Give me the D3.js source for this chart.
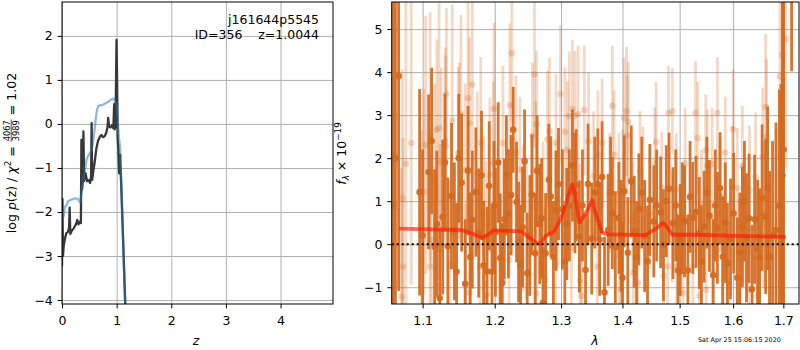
<!DOCTYPE html>
<html><head><meta charset="utf-8">
<script src="https://cdn.jsdelivr.net/npm/d3@7"></script>
<style>body{margin:0;background:#fff} svg text{font-family:"DejaVu Sans",sans-serif}</style>
</head><body><svg id="c" width="800" height="350"></svg>
<script>
// ---------------- data ----------------
const zTicks = [0, 1, 2, 3, 4];
const pTicks = [-4, -3, -2, -1, 0, 1, 2];
const lamTicks = [1.1, 1.2, 1.3, 1.4, 1.5, 1.6, 1.7];
const fTicks = [-1, 0, 1, 2, 3, 4, 5];
const titleLines = ["j161644p5545", "ID=356    z=1.0044"];
const stamp = "Sat Apr 25 15:06:15 2020";

// log p(z) curves [z, value]
const pzBlack = [[0,-3.23],[0.008,-1.70],[0.018,-3.0],[0.03,-2.78],[0.055,-2.6],[0.08,-2.48],[0.11,-2.45],[0.13,-2.35],[0.14,-1.9],[0.152,-2.5],[0.18,-2.42],[0.21,-2.38],[0.232,-2.33],[0.255,-2.28],[0.28,-2.18],[0.30,-2.28],[0.33,-2.22],[0.346,-2.25],[0.355,-0.36],[0.365,-1.5],[0.378,-1.35],[0.392,-0.17],[0.405,-1.3],[0.43,-1.12],[0.46,-1.3],[0.49,-1.28],[0.515,-1.34],[0.532,-1.2],[0.542,0.02],[0.552,-1.27],[0.57,-1.1],[0.6,-0.85],[0.63,-0.55],[0.66,-0.38],[0.69,-0.3],[0.72,-0.25],[0.75,-0.3],[0.78,-0.28],[0.81,-0.2],[0.835,-0.06],[0.845,0.14],[0.86,-0.05],[0.885,-0.08],[0.915,-0.03],[0.94,-0.1],[0.955,0.45],[0.965,-0.12],[0.98,-0.05],[0.992,1.3],[0.998,1.91],[1.008,1.0],[1.018,-0.3],[1.03,-0.55],[1.045,-1.12],[1.063,-0.7],[1.09,-1.6],[1.12,-2.7],[1.155,-4.0],[1.17,-4.5]];
const pzBlue = [[0,-2.4],[0.01,-2.0],[0.03,-2.1],[0.055,-1.88],[0.08,-1.85],[0.116,-1.75],[0.17,-1.72],[0.24,-1.69],[0.29,-1.7],[0.33,-1.78],[0.36,-1.55],[0.385,-1.3],[0.41,-1.15],[0.45,-0.8],[0.49,-0.7],[0.54,-0.6],[0.57,-0.4],[0.6,-0.1],[0.63,0.25],[0.66,0.4],[0.7,0.43],[0.73,0.42],[0.76,0.44],[0.8,0.47],[0.85,0.5],[0.89,0.55],[0.94,0.58],[0.97,0.52],[1.0,0.42],[1.02,0.1],[1.04,-0.3],[1.063,-0.52],[1.09,-1.55],[1.12,-2.7],[1.155,-4.0],[1.17,-4.5]];

// spectrum points [lambda, flux, err]
const specDark = [[1.0615,0.9,6],[1.0645,2.0,6],[1.0686,3.91,5],[1.096,1.21,2.4],[1.100,0.2,2.0],[1.108,1.68,1.8],[1.112,2.4,1.7],[1.116,-0.06,1.8],[1.119,0.47,1.7],[1.123,-1.25,1.6],[1.127,0.63,1.8],[1.130,1.9,1.6],[1.134,-0.05,1.6],[1.139,1.12,1.7],[1.143,0.3,1.6],[1.146,-0.64,1.6],[1.149,2.0,1.5],[1.153,1.43,1.6],[1.158,-0.92,1.5],[1.162,1.71,1.5],[1.165,-0.3,1.5],[1.168,0.57,1.6],[1.173,1.21,1.5],[1.177,0.26,1.5],[1.181,1.6,1.5],[1.184,-0.49,1.5],[1.189,-0.63,1.5],[1.192,1.36,1.5],[1.196,-0.64,1.5],[1.199,0.9,1.5],[1.201,0.28,1.5],[1.205,1.9,1.4],[1.208,-0.32,1.5],[1.211,-0.9,1.4],[1.214,0.58,1.4],[1.217,1.6,1.4],[1.22,0.71,1.5],[1.224,1.14,1.4],[1.227,2.66,1.0],[1.232,0.98,1.4],[1.235,0.05,1.4],[1.238,-0.49,1.4],[1.241,0.4,1.4],[1.244,1.93,1.2],[1.248,-0.67,1.4],[1.252,0.2,1.4],[1.255,1.15,1.4],[1.26,-0.21,1.4],[1.263,1.7,1.3],[1.267,0.47,1.4],[1.270,0.6,1.4],[1.272,-1.36,1.3],[1.276,-0.21,1.4],[1.281,1.5,1.3],[1.284,1.11,1.4],[1.288,-0.3,1.3],[1.292,0.78,1.4],[1.296,1.4,1.3],[1.302,0.81,1.4],[1.306,-0.4,1.3],[1.309,0.47,1.3],[1.313,0.9,1.3],[1.318,1.83,1.3],[1.322,1.19,1.4],[1.324,1.37,1.3],[1.329,0.18,1.3],[1.334,0.9,1.3],[1.339,-0.6,1.3],[1.343,1.4,1.4],[1.349,0.13,1.3],[1.354,1.2,1.3],[1.359,1.39,1.3],[1.362,0.1,1.3],[1.366,1.56,1.3],[1.37,-1.12,1.3],[1.376,0.33,1.3],[1.380,1.2,1.3],[1.383,0.72,1.3],[1.388,-0.07,1.3],[1.394,0.61,1.3],[1.398,0.2,1.3],[1.4,-0.78,1.3],[1.403,1.23,1.3],[1.409,-0.2,1.3],[1.415,1.46,1.3],[1.42,0.29,1.3],[1.424,-0.3,1.3],[1.428,0.81,1.3],[1.433,1.2,1.3],[1.438,0.19,1.3],[1.443,-0.4,1.3],[1.447,1.03,1.3],[1.454,0.53,1.3],[1.459,0.9,1.3],[1.466,0.74,1.3],[1.471,-0.02,1.3],[1.476,1.0,1.3],[1.481,1.29,1.3],[1.488,0.49,1.3],[1.493,0.9,1.3],[1.497,-0.61,1.3],[1.501,0.1,1.3],[1.505,0.6,1.3],[1.509,0.53,1.3],[1.515,-0.61,1.3],[1.519,1.1,1.3],[1.524,0.61,1.3],[1.53,0.75,1.3],[1.536,0.26,1.3],[1.540,-0.4,1.3],[1.545,0.41,1.3],[1.550,1.2,1.3],[1.555,0.66,1.3],[1.562,-0.72,1.3],[1.566,0.9,1.3],[1.57,0.38,1.3],[1.575,1.3,1.3],[1.58,-0.29,1.4],[1.585,0.5,1.4],[1.589,-0.44,1.4],[1.595,0.12,1.4],[1.601,0.72,1.4],[1.608,-0.78,1.4],[1.613,-0.2,1.4],[1.618,0.4,1.4],[1.622,1.0,1.4],[1.626,0.15,1.5],[1.631,0.6,1.5],[1.637,-1.05,1.5],[1.642,0.58,1.5],[1.648,-0.1,1.6],[1.652,-0.3,1.6],[1.657,1.08,1.7],[1.664,0.64,1.8],[1.668,1.3,1.9],[1.672,-0.3,2.0],[1.678,0.2,2.2],[1.685,0.33,2.5],[1.692,0.89,2.7],[1.695,0.32,3.4],[1.698,1.6,5],[1.7005,2.2,5],[1.717,7.0,2.98]];
const specLight = [[1.0616,0.41,4],[1.0722,-1.22,3],[1.0735,1.07,3],[1.0743,-0.52,3],[1.078,1.87,3.8],[1.085,2.35,3.3],[1.0983,0.26,2.4],[1.1018,1.22,2.4],[1.104,2.31,3.0],[1.1097,-0.52,2.2],[1.110,2.49,2.9],[1.1118,0.1,2.0],[1.1161,1.53,2.2],[1.119,2.66,2.1],[1.122,2.70,2.9],[1.1232,0.33,2.0],[1.1250,1.9,2.2],[1.1304,2.39,2.0],[1.131,2.27,2.3],[1.132,3.49,2.0],[1.1368,-0.5,2.0],[1.140,2.87,2.7],[1.1483,2.12,2.0],[1.150,2.12,2.1],[1.152,3.03,2.3],[1.158,1.73,2.0],[1.1590,-0.95,1.9],[1.162,3.40,2.4],[1.164,2.81,2.0],[1.1645,-1.13,1.8],[1.168,3.71,2.0],[1.1750,1.65,1.9],[1.1787,-0.52,1.8],[1.1799,2.35,2.0],[1.184,0.72,1.8],[1.187,0.14,1.8],[1.1883,-1.18,1.7],[1.1929,1.61,1.8],[1.198,1.88,1.9],[1.199,3.15,2.0],[1.2074,0.26,1.7],[1.212,2.35,1.8],[1.2210,-0.37,1.7],[1.222,3.23,1.9],[1.225,4.44,1.6],[1.231,2.12,1.8],[1.237,1.73,1.7],[1.242,0.6,1.7],[1.2469,0.33,1.6],[1.256,2.52,1.7],[1.259,3.95,1.7],[1.2620,-1.14,1.6],[1.262,2.79,1.7],[1.261,1.73,1.6],[1.272,0.78,1.6],[1.2747,-0.83,1.6],[1.279,2.43,1.6],[1.282,2.63,1.7],[1.2917,-0.5,1.5],[1.292,2.35,1.6],[1.2952,1.03,1.5],[1.299,3.49,1.6],[1.306,2.61,1.5],[1.31,2.19,1.6],[1.313,2.98,1.5],[1.3163,-0.09,1.5],[1.318,3.15,1.6],[1.322,2.99,1.5],[1.327,3.02,1.6],[1.3295,0.37,1.5],[1.3305,-0.85,1.5],[1.3327,-1.2,1.5],[1.337,3.12,1.5],[1.344,2.39,1.6],[1.352,1.59,1.5],[1.3582,-0.52,1.5],[1.359,2.08,1.5],[1.366,2.35,1.5],[1.3785,1.19,1.4],[1.383,3.22,1.4],[1.386,2.08,1.5],[1.394,1.19,1.4],[1.3951,-0.27,1.4],[1.3979,-1.06,1.4],[1.4007,1.26,1.4],[1.403,2.93,1.4],[1.407,3.09,1.5],[1.408,2.52,1.4],[1.41,2.84,1.4],[1.4177,0.64,1.3],[1.4185,-0.67,1.3],[1.4262,-0.9,1.3],[1.43,1.69,1.4],[1.435,1.43,1.3],[1.4466,0.72,1.3],[1.456,1.88,1.3],[1.458,2.37,1.4],[1.468,1.31,1.3],[1.4712,-0.74,1.3],[1.4788,-0.52,1.3],[1.48,3.05,1.1],[1.4867,0.41,1.3],[1.487,3.09,1.0],[1.494,1.28,1.3],[1.4949,-0.52,1.3],[1.5058,-1.14,1.3],[1.51,1.88,1.3],[1.5241,-0.52,1.3],[1.529,3.05,1.2],[1.533,2.47,1.3],[1.5364,-1.2,1.3],[1.54,0.9,1.3],[1.548,2.18,1.3],[1.5488,-1.06,1.3],[1.551,1.83,1.3],[1.56,1.87,1.3],[1.5611,-0.67,1.3],[1.57,3.05,1.3],[1.575,1.1,1.3],[1.58,-0.1,1.3],[1.585,2.13,1.3],[1.5916,-0.9,1.4],[1.599,1.34,1.4],[1.6,2.67,1.4],[1.608,1.3,1.4],[1.6122,-0.35,1.4],[1.618,1.81,1.4],[1.62,0.5,1.4],[1.6303,-1.06,1.5],[1.632,1.26,1.5],[1.644,1.56,1.5],[1.6481,-1.2,1.6],[1.658,2.04,1.6],[1.66,0.7,1.7],[1.664,3.19,1.7],[1.666,2.5,1.8],[1.6714,-0.25,1.9],[1.685,0.2,2.5],[1.693,3.9,3],[1.698,4.4,4],[1.705,4.77,3]];

// best-fit model [lambda, flux]
const modelLine = [[1.069,0.36],[1.101,0.35],[1.152,0.33],[1.166,0.26],[1.182,0.15],[1.189,0.21],[1.198,0.32],[1.24,0.30],[1.25,0.16],[1.261,0.04],[1.268,0.01],[1.276,0.19],[1.289,0.29],[1.3,0.6],[1.311,1.12],[1.318,1.39],[1.322,1.17],[1.329,0.5],[1.339,0.72],[1.35,1.02],[1.355,0.72],[1.366,0.27],[1.377,0.23],[1.439,0.21],[1.456,0.35],[1.47,0.49],[1.475,0.44],[1.487,0.22],[1.53,0.22],[1.625,0.19],[1.705,0.17]];

// ---------------- drawing ----------------
const svg = d3.select("#c");
const FS = 12.5;
const L = {x0:62, x1:333, y0:2, y1:304};
const R = {x0:391.7, x1:799, y0:2, y1:304};
const xL = d3.scaleLinear().domain([0, 4.96]).range([L.x0, L.x1]);
const yL = d3.scaleLinear().domain([-4.09, 2.77]).range([L.y1, L.y0]);
const xR = d3.scaleLog().domain([1.0597, 1.7324]).range([R.x0, R.x1]);
const yR = d3.scaleLinear().domain([-1.39, 5.63]).range([R.y1, R.y0]);

const defs = svg.append("defs");
[["clipL", L], ["clipR", R]].forEach(([id, b]) => {
  defs.append("clipPath").attr("id", id).append("rect")
    .attr("x", b.x0).attr("y", b.y0).attr("width", b.x1 - b.x0).attr("height", b.y1 - b.y0);
});

function grid(b, xs, ys, xt, yt) {
  const g = svg.append("g");
  g.append("g").attr("transform", `translate(0,${b.y1})`)
    .call(d3.axisBottom(xs).tickValues(xt).tickSize(-(b.y1 - b.y0)).tickFormat(""))
    .call(s => { s.select(".domain").remove(); s.selectAll("line").attr("stroke", "#b0b0b0").attr("stroke-width", 1); });
  g.append("g").attr("transform", `translate(${b.x0},0)`)
    .call(d3.axisLeft(ys).tickValues(yt).tickSize(-(b.x1 - b.x0)).tickFormat(""))
    .call(s => { s.select(".domain").remove(); s.selectAll("line").attr("stroke", "#b0b0b0").attr("stroke-width", 1); });
}
function frame(b, xs, ys, xt, yt, xf, yf) {
  const g = svg.append("g");
  g.append("rect").attr("x", b.x0).attr("y", b.y0).attr("width", b.x1 - b.x0).attr("height", b.y1 - b.y0)
    .attr("fill", "none").attr("stroke", "#000").attr("stroke-width", 1);
  const ax = g.append("g").attr("transform", `translate(0,${b.y1})`)
    .call(d3.axisBottom(xs).tickValues(xt).tickSize(4.4).tickSizeOuter(0).tickPadding(8.2).tickFormat(xf));
  const ay = g.append("g").attr("transform", `translate(${b.x0},0)`)
    .call(d3.axisLeft(ys).tickValues(yt).tickSize(4.4).tickSizeOuter(0).tickPadding(4.8).tickFormat(yf));
  [ax, ay].forEach(a => {
    a.select(".domain").remove();
    a.attr("font-family", null).attr("font-size", null);
    a.selectAll("line").attr("stroke", "#000").attr("stroke-width", 1);
    a.selectAll("text").attr("font-size", FS).attr("fill", "#000");
  });
}

// ---- left panel ----
grid(L, xL, yL, zTicks, pTicks);
const gl = svg.append("g").attr("clip-path", "url(#clipL)");
const lineL = d3.line().x(d => xL(d[0])).y(d => yL(d[1]));
gl.append("path").datum(pzBlack).attr("d", lineL).attr("fill", "none")
  .attr("stroke", "#383838").attr("stroke-width", 2.3).attr("stroke-linejoin", "round");
gl.append("path").datum(pzBlue).attr("d", lineL).attr("fill", "none")
  .attr("stroke", "#1f77b4").attr("stroke-opacity", 0.5).attr("stroke-width", 2.3).attr("stroke-linejoin", "round");
frame(L, xL, yL, zTicks, pTicks, d3.format("d"), d3.format("d"));

svg.append("text").attr("x", 319).attr("y", 24).attr("text-anchor", "end").attr("font-size", FS).text(titleLines[0]);
svg.append("text").attr("x", 319).attr("y", 39).attr("text-anchor", "end").attr("font-size", FS)
  .style("white-space", "pre").text(titleLines[1]);

// ---- right panel ----
grid(R, xR, yR, lamTicks, fTicks);
const gr = svg.append("g").attr("clip-path", "url(#clipR)");
const COL = "#d2691e";
function drawSpec(data, op) {
  const g = gr.append("g");
  g.selectAll("line").data(data).join("line")
    .attr("x1", d => xR(d[0])).attr("x2", d => xR(d[0]))
    .attr("y1", d => yR(d[1] - d[2])).attr("y2", d => yR(d[1] + d[2]))
    .attr("stroke", COL).attr("stroke-opacity", op).attr("stroke-width", 2.8);
  g.selectAll("circle").data(data).join("circle")
    .attr("cx", d => xR(d[0])).attr("cy", d => yR(d[1])).attr("r", 3.3)
    .attr("fill", COL).attr("fill-opacity", op);
}
drawSpec(specLight, 0.25);
drawSpec(specDark, 0.92);
gr.append("path").datum(modelLine)
  .attr("d", d3.line().x(d => xR(d[0])).y(d => yR(d[1])))
  .attr("fill", "none").attr("stroke", "#ff1a00").attr("stroke-opacity", 0.65)
  .attr("stroke-width", 3.8).attr("stroke-linejoin", "round");
gr.append("line").attr("x1", R.x0).attr("x2", R.x1).attr("y1", yR(0)).attr("y2", yR(0))
  .attr("stroke", "#000").attr("stroke-width", 2).attr("stroke-dasharray", "2,3");
frame(R, xR, yR, lamTicks, fTicks, d3.format(".1f"), d3.format("d"));

// ---- axis labels ----
svg.append("text").attr("x", 196).attr("y", 345).attr("text-anchor", "middle")
  .attr("font-size", FS).attr("font-style", "italic").text("z");
svg.append("text").attr("x", 595).attr("y", 345).attr("text-anchor", "middle")
  .attr("font-size", FS).attr("font-style", "italic").text("λ");
svg.append("text").attr("x", 698).attr("y", 342).attr("font-size", 6.4).text(stamp);

// left y label with a stacked fraction
(function () {
  const g = svg.append("g").attr("transform", "translate(15.5,153) rotate(-90)");
  const a = g.append("text").attr("font-size", FS).style("white-space", "pre");
  a.append("tspan").text("log ");
  a.append("tspan").attr("font-style", "italic").text("p");
  a.append("tspan").text("(z) / ");
  a.append("tspan").attr("font-style", "italic").text("χ");
  a.append("tspan").attr("font-size", 8.8).attr("dy", -4.8).text("2");
  a.append("tspan").attr("dy", 4.8).text(" = ");
  const fs = 8.3;
  const num = g.append("text").attr("font-size", fs).attr("text-anchor", "middle").text("4067");
  const den = g.append("text").attr("font-size", fs).attr("text-anchor", "middle").text("3989");
  const b = g.append("text").attr("font-size", FS).style("white-space", "pre").text(" = 1.02");
  const wa = a.node().getComputedTextLength();
  const wf = Math.max(num.node().getComputedTextLength(), den.node().getComputedTextLength()) + 2;
  const wb = b.node().getComputedTextLength();
  const tot = wa + wf + wb;
  const x0 = -tot / 2;
  a.attr("x", x0);
  const fc = x0 + wa + wf / 2;
  num.attr("x", fc).attr("y", -5.8);
  den.attr("x", fc).attr("y", 3.4);
  g.append("line").attr("x1", x0 + wa + 0.5).attr("x2", x0 + wa + wf - 0.5)
    .attr("y1", -4.3).attr("y2", -4.3).attr("stroke", "#000").attr("stroke-width", 0.7);
  b.attr("x", x0 + wa + wf);
})();

// right y label
(function () {
  const g = svg.append("g").attr("transform", "translate(346,153.5) rotate(-90)");
  const t = g.append("text").attr("font-size", FS).attr("text-anchor", "middle").style("white-space", "pre");
  t.append("tspan").attr("font-style", "italic").text("f");
  t.append("tspan").attr("font-size", 8.8).attr("font-style", "italic").attr("dy", 2.6).text("λ");
  t.append("tspan").attr("dy", -2.6).text(" × 10");
  t.append("tspan").attr("font-size", 8.8).attr("dy", -5).text("−19");
})();
</script>
</body></html>
